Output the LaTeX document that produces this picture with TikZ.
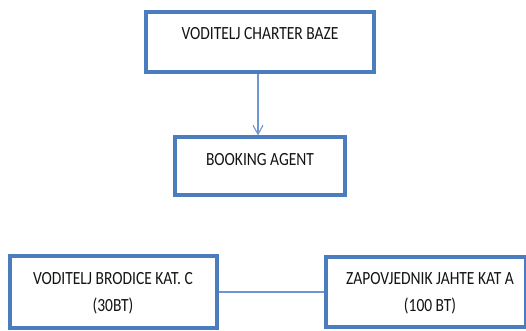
\documentclass[tikz,border=0pt]{standalone}
\usepackage{fontspec}
\setmainfont{Carlito}
\usetikzlibrary{arrows.meta}
\definecolor{boxblue}{RGB}{74,124,190}
\definecolor{linkblue}{RGB}{110,150,210}
\definecolor{txt}{RGB}{20,20,20}
\newcommand{\tallt}[1]{\scalebox{1}[1.2]{#1}}
\begin{document}
\begin{tikzpicture}[x=1pt,y=-1pt,
  box/.style={draw=boxblue, line width=3.2pt, fill=white, rectangle, inner sep=0pt},
  lbl/.style={anchor=base, inner sep=0pt, text=txt, font=\fontsize{15.5}{18}\selectfont},
  link/.style={draw=linkblue, line width=1.1pt}]
\useasboundingbox (0,0) rectangle (526,331);
\fill[white] (0,0) rectangle (526,331);
% boxes
\node[box, minimum width=228pt, minimum height=60pt] (top) at (260,42) {};
\node[box, minimum width=170pt, minimum height=58pt] (book) at (260,166) {};
\node[box, minimum width=207pt, minimum height=72pt] (left) at (113.5,292) {};
\node[box, minimum width=200pt, minimum height=70pt] (right) at (426,292) {};
% texts
\node[lbl] (t1) at (260,40) {\tallt{VODITELJ CHARTER BAZE}};
\node[lbl] (t2) at (260,165) {\tallt{BOOKING AGENT}};
\node[lbl] (t3) at (113,284) {\tallt{VODITELJ BRODICE KAT. C}};
\node[lbl] (t4) at (113,311) {\tallt{(30BT)}};
\node[lbl] (t5) at (430,284) {\tallt{ZAPOVJEDNIK JAHTE KAT A}};
\node[lbl] (t6) at (430,311) {\tallt{(100 BT)}};
% connectors
\draw[link, -{Straight Barb[length=9pt,width=10pt]}] ([xshift=-2pt]top.south) -- ([xshift=-2pt]book.north);
\draw[link] (left.east) -- (right.west);
\end{tikzpicture}
\end{document}
